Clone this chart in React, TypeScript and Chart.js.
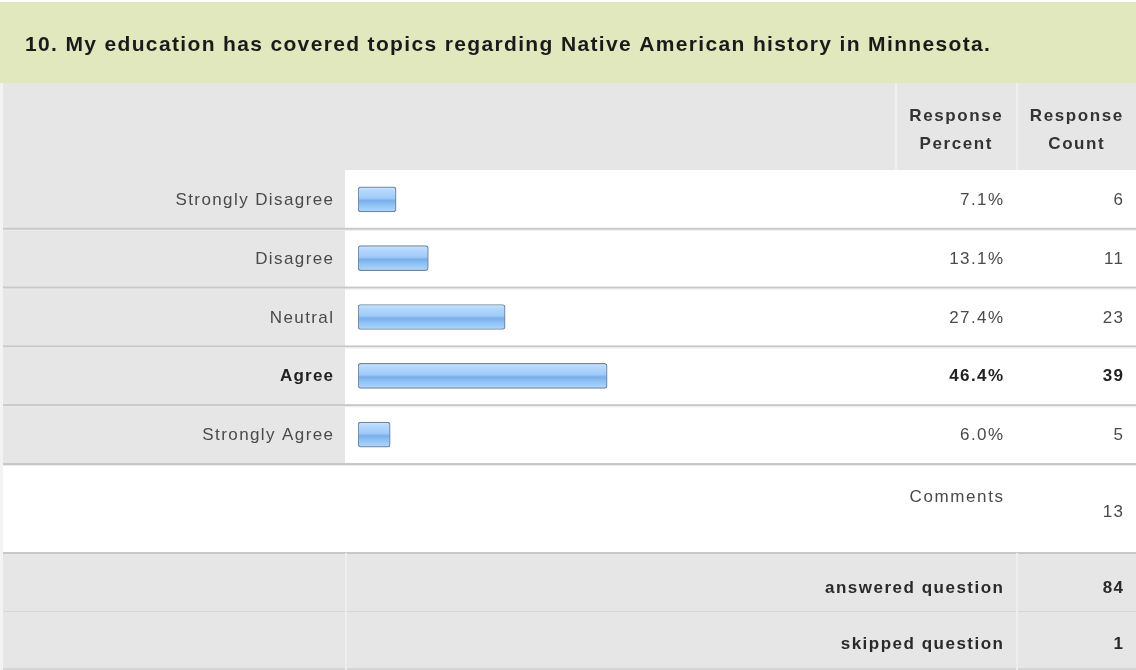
import React, { useEffect, useRef } from 'react';
import { Chart, registerables } from 'chart.js';

Chart.register(...registerables);

const TITLE = '10. My education has covered topics regarding Native American history in Minnesota.';
const categories = ['Strongly Disagree', 'Disagree', 'Neutral', 'Agree', 'Strongly Agree'];
const responsePercent = [7.1, 13.1, 27.4, 46.4, 6.0];
const responseCount = [6, 11, 23, 39, 5];
const highlightIndex = 3;
const percentHeader = ['Response', 'Percent'];
const countHeader = ['Response', 'Count'];
const commentsLabel = 'Comments';
const commentsCount = 13;
const summaryLabels = ['answered question', 'skipped question'];
const summaryCounts = [84, 1];

const FONT = '"Liberation Sans", Arial, Helvetica, sans-serif';
const W = 1136;
const H = 670;
const LABEL_COL = 345;
const COUNT_COL = 1016;

function txt(ctx: CanvasRenderingContext2D, s: string, x: number, y: number, font: string, color: string, align: CanvasTextAlign, spacing: number) {
  ctx.save();
  ctx.font = font;
  ctx.fillStyle = color;
  ctx.textBaseline = 'middle';
  (ctx as any).letterSpacing = spacing + 'px';
  let xx = x;
  if (align === 'right') {
    xx = x - ctx.measureText(s).width + spacing;
  } else if (align === 'center') {
    xx = x - (ctx.measureText(s).width - spacing) / 2;
  }
  ctx.textAlign = 'left';
  ctx.fillText(s, xx, y);
  ctx.restore();
}

function hline(ctx: CanvasRenderingContext2D, x0: number, x1: number, y: number, color: string, w: number) {
  ctx.save();
  ctx.fillStyle = color;
  ctx.fillRect(x0, y, x1 - x0, w);
  ctx.restore();
}

function vline(ctx: CanvasRenderingContext2D, x: number, y0: number, y1: number, color: string, w: number) {
  ctx.save();
  ctx.fillStyle = color;
  ctx.fillRect(x, y0, w, y1 - y0);
  ctx.restore();
}

const tablePlugin = {
  id: 'surveyTable',
  beforeDraw(chart: any) {
    const ctx: CanvasRenderingContext2D = chart.ctx;
    const area = chart.chartArea;
    const y = chart.scales.y;
    const n = categories.length;
    ctx.save();
    ctx.fillStyle = '#ffffff';
    ctx.fillRect(0, 0, W, H);
    // title band
    ctx.fillStyle = '#e2e8bd';
    ctx.fillRect(0, 2, W, 81);
    // header row
    ctx.fillStyle = '#e6e6e6';
    ctx.fillRect(0, 83, W, area.top - 83);
    vline(ctx, area.right, 83, area.top, '#efefef', 2);
    vline(ctx, COUNT_COL, 83, area.top, '#efefef', 2);
    // label column
    ctx.fillStyle = '#e6e6e6';
    ctx.fillRect(0, area.top, LABEL_COL, area.bottom - area.top);
    // row separators
    for (let i = 0; i < n; i++) {
      const b = i < n - 1 ? (y.getPixelForValue(i) + y.getPixelForValue(i + 1)) / 2 : area.bottom;
      hline(ctx, 0, W, b - 1, '#c8c8c8', 2);
      hline(ctx, 0, W, b + 1, '#ececec', 1);
    }
    // summary rows
    const sumTop = 553;
    ctx.fillStyle = '#e6e6e6';
    ctx.fillRect(0, sumTop, W, H - sumTop);
    hline(ctx, 0, W, sumTop - 1, '#c8c8c8', 2);
    hline(ctx, 0, W, 611, '#d6d6d6', 1);
    hline(ctx, 0, W, 668, '#d6d6d6', 2);
    vline(ctx, LABEL_COL, sumTop, H, '#eeeeee', 2);
    vline(ctx, COUNT_COL, sumTop, H, '#eeeeee', 2);
    // left edge
    ctx.fillStyle = '#f3f3f3';
    ctx.fillRect(0, 83, 3, H - 83);
    ctx.restore();
  },
  afterDraw(chart: any) {
    const ctx: CanvasRenderingContext2D = chart.ctx;
    const area = chart.chartArea;
    const y = chart.scales.y;
    const pctX = (area.right + COUNT_COL) / 2;
    const cntX = (COUNT_COL + W) / 2;
    const pctRight = 1003;
    const cntRight = 1123;
    const reg = `17px ${FONT}`;
    const bld = `bold 17px ${FONT}`;
    txt(ctx, TITLE, 25, 45, `bold 21px ${FONT}`, '#1a1a1a', 'left', 1.35);
    txt(ctx, percentHeader[0], pctX, 116, bld, '#333333', 'center', 1.6);
    txt(ctx, percentHeader[1], pctX, 144, bld, '#333333', 'center', 1.6);
    txt(ctx, countHeader[0], cntX, 116, bld, '#333333', 'center', 1.6);
    txt(ctx, countHeader[1], cntX, 144, bld, '#333333', 'center', 1.6);
    categories.forEach((c, i) => {
      const cy = y.getPixelForValue(i) + 1;
      const bold = i === highlightIndex;
      const f = bold ? bld : reg;
      const col = bold ? '#222222' : '#4a4a4a';
      txt(ctx, c, area.left - 25, cy, f, col, 'right', bold ? 1.2 : 1.4);
      txt(ctx, responsePercent[i].toFixed(1) + '%', pctRight, cy, f, col, 'right', 1.4);
      txt(ctx, String(responseCount[i]), cntRight, cy, f, col, 'right', 1.4);
    });
    txt(ctx, commentsLabel, pctRight, 497, reg, '#4a4a4a', 'right', 1.6);
    txt(ctx, String(commentsCount), cntRight, 512, reg, '#4a4a4a', 'right', 1.4);
    txt(ctx, summaryLabels[0], pctRight, 588, bld, '#2a2a2a', 'right', 1.5);
    txt(ctx, String(summaryCounts[0]), cntRight, 588, bld, '#2a2a2a', 'right', 1.4);
    txt(ctx, summaryLabels[1], pctRight, 644, bld, '#2a2a2a', 'right', 1.5);
    txt(ctx, String(summaryCounts[1]), cntRight, 644, bld, '#2a2a2a', 'right', 1.4);
  },
};

function barFill(ctx: any) {
  const chart = ctx.chart;
  const ys = chart.scales && chart.scales.y;
  if (!chart.chartArea || !ys) return '#93c4f6';
  const c = ys.getPixelForValue(ctx.dataIndex);
  const g = chart.ctx.createLinearGradient(0, c - 12.5, 0, c + 12.5);
  g.addColorStop(0, '#cfe6fe');
  g.addColorStop(0.15, '#b4d8fc');
  g.addColorStop(0.45, '#a0cbf8');
  g.addColorStop(0.55, '#78aeea');
  g.addColorStop(0.7, '#8cc0f4');
  g.addColorStop(1, '#b0d7fc');
  return g;
}

export default function App() {
  const ref = useRef<HTMLCanvasElement | null>(null);
  useEffect(() => {
    if (!ref.current) return;
    const chart = new Chart(ref.current, {
      type: 'bar',
      data: {
        labels: categories,
        datasets: [
          {
            data: responsePercent,
            backgroundColor: barFill as any,
            borderColor: '#71869f',
            borderWidth: 1.2,
            borderRadius: 3,
            borderSkipped: false,
            barThickness: 25,
          },
        ],
      },
      options: {
        indexAxis: 'y',
        responsive: false,
        animation: false,
        devicePixelRatio: 1,
        layout: { padding: { left: 358, right: W - 895, top: 170, bottom: H - 464 } },
        plugins: { legend: { display: false }, tooltip: { enabled: false }, title: { display: false } },
        scales: {
          x: { type: 'linear', min: 0, max: 100, display: false },
          y: { type: 'category', display: false },
        },
      },
      plugins: [tablePlugin],
    });
    return () => chart.destroy();
  }, []);
  return (
    <div style={{ position: 'fixed', left: 0, top: 0, width: W, height: H, background: '#fff' }}>
      <canvas ref={ref} width={W} height={H} style={{ display: 'block', width: W, height: H }} />
    </div>
  );
}
